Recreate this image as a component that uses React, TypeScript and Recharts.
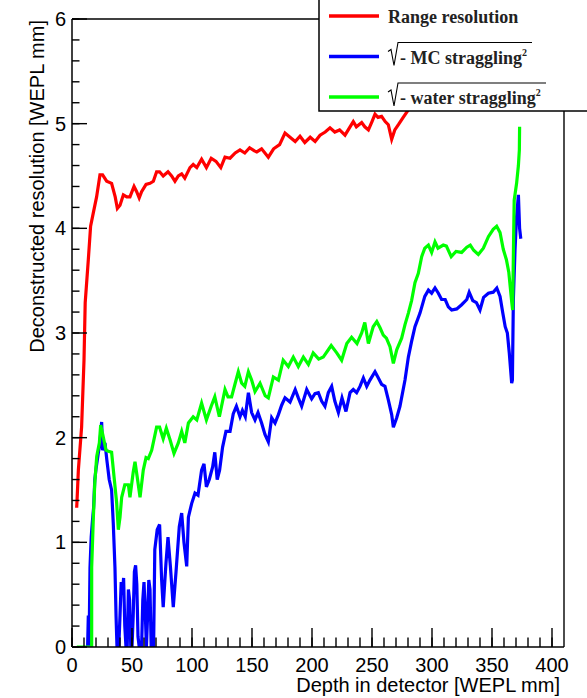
import React from 'react';
import { LineChart, Line, XAxis, YAxis, ReferenceLine } from 'recharts';

// Range resolution
const redDepth = [
  3.9, 4.2, 5.3, 8, 10, 11, 13.6, 15.5, 17.8, 20.5, 23.3, 25.5, 28.9, 33, 36, 37.8, 40, 42.8, 45.6, 48.3,
  51.7, 53.9, 56, 58, 61.7, 65, 67.8, 70.5, 73, 76, 80, 83, 85.8, 88.6, 91.4, 94, 98.3, 101, 104, 108,
  112, 116, 120, 124, 127.5, 131.7, 136, 140, 144, 148, 152, 154, 158, 163.6, 168, 173, 177.5, 181.7, 186, 190,
  194, 198.5, 202.6, 206.7, 211, 215, 219, 223, 227.5, 231.7, 234.4, 237, 241.4, 244, 247, 250, 252.5, 255, 258, 261,
  263.6, 266.4, 269, 272, 276, 279, 282, 286, 292, 300, 310, 320, 330, 340, 350, 360, 370, 374,
];
const redRes = [
  1.33, 1.4, 1.69, 2.1, 2.74, 3.29, 3.7, 4.02, 4.15, 4.3, 4.51, 4.51, 4.45, 4.43, 4.3, 4.19, 4.22, 4.32, 4.3, 4.3,
  4.4, 4.35, 4.29, 4.35, 4.42, 4.43, 4.45, 4.54, 4.54, 4.5, 4.54, 4.5, 4.45, 4.5, 4.52, 4.48, 4.58, 4.61, 4.58, 4.66,
  4.58, 4.67, 4.64, 4.58, 4.68, 4.67, 4.72, 4.75, 4.72, 4.77, 4.74, 4.73, 4.76, 4.68, 4.76, 4.8, 4.91, 4.87, 4.83, 4.88,
  4.82, 4.87, 4.83, 4.89, 4.92, 4.96, 4.92, 4.94, 4.89, 4.97, 5.02, 4.97, 5.01, 4.97, 4.94, 5.02, 5.09, 5.06, 5.07, 5.02,
  4.99, 4.85, 4.94, 4.99, 5.06, 5.11, 5.16, 5.2, 5.22, 5.24, 5.28, 5.3, 5.33, 5.36, 5.4, 5.45, 5.5, 5.52,
];

// sqrt(range^2 - MC straggling^2)
const blueDepth = [
  13, 13.6, 14.2, 15, 16, 17, 18, 19, 20, 21, 22, 23, 24, 24.7, 25.5, 26.5, 27.5, 29, 31, 33,
  34.4, 35.8, 36.7, 37.5, 39, 40, 41, 42, 43, 44, 45, 46, 47, 48, 49, 50, 51, 52, 53, 54,
  55, 56, 57, 58, 59, 60, 61, 62, 63, 64, 65, 66, 67, 68, 69, 71, 73, 74.7, 76, 78.3,
  80, 82, 84.4, 86.7, 89.4, 91.4, 93.3, 95.6, 97, 99.7, 102.5, 105, 108, 110, 112, 114.4, 117.2, 119, 121, 123,
  125.5, 128.3, 131.7, 134.4, 137, 140, 142, 144.4, 147, 149.7, 152.5, 155, 158, 160.8, 163.6, 166.4, 169.2, 172, 174.7, 177.5,
  181.7, 186, 188.6, 191.4, 195.6, 199.7, 202.5, 205.3, 208, 210.8, 213.6, 216.4, 219, 222, 225, 228.3, 231.7, 234.4, 237.2, 240,
  242.8, 245.6, 248.3, 252.5, 255.3, 258, 260.8, 263.6, 266.4, 267.8, 270.6, 273.3, 277.5, 280.3, 283, 285.8, 290, 294, 297, 299.7,
  302.5, 305.3, 308, 311, 313.6, 316.4, 320.6, 324.7, 329, 331, 334, 337, 340, 343, 347, 351, 354, 356.7, 359, 361,
  362.8, 364.4, 366.4, 367, 367.8, 369.2, 370.5, 372, 373, 374,
];
const blueRes = [
  0, 0.3, 0, 0.76, 1.05, 1.2, 1.33, 1.6, 1.7, 1.78, 1.86, 1.92, 2.05, 2.15, 1.88, 1.92, 1.95, 1.79, 1.6, 1.5,
  1.18, 0.76, 0.3, 0, 0, 0.3, 0.62, 0.5, 0.66, 0.2, 0, 0, 0.55, 0.45, 0, 0, 0.3, 0.72, 0.78, 0.6,
  0.1, 0, 0, 0, 0.45, 0.62, 0.35, 0, 0.3, 0.64, 0.55, 0, 0.2, 0, 0.93, 1.12, 1.17, 0.64, 0.38, 0.8,
  1.05, 0.77, 0.38, 0.72, 1.15, 1.28, 1.0, 0.77, 1.24, 1.37, 1.47, 1.45, 1.69, 1.75, 1.53, 1.6, 1.72, 1.86, 1.6, 1.69,
  1.91, 2.06, 2.06, 2.23, 2.3, 2.2, 2.26, 2.2, 2.43, 2.24, 2.17, 2.24, 2.14, 2.03, 1.96, 2.19, 2.14, 2.22, 2.31, 2.38,
  2.34, 2.46, 2.38, 2.3, 2.46, 2.37, 2.42, 2.43, 2.35, 2.3, 2.43, 2.49, 2.35, 2.24, 2.38, 2.25, 2.43, 2.46, 2.43, 2.49,
  2.57, 2.49, 2.55, 2.63, 2.57, 2.51, 2.49, 2.36, 2.22, 2.1, 2.19, 2.3, 2.55, 2.77, 2.92, 3.06, 3.19, 3.35, 3.41, 3.38,
  3.43, 3.38, 3.32, 3.32, 3.25, 3.22, 3.23, 3.27, 3.32, 3.39, 3.31, 3.29, 3.22, 3.34, 3.38, 3.39, 3.43, 3.35, 3.19, 3.06,
  3.0, 2.81, 2.52, 2.55, 3.32, 3.8, 4.11, 4.32, 4.0, 3.9,
];

// sqrt(range^2 - water straggling^2)
const greenDepth = [
  4, 16.4, 16.4, 17.8, 19, 20.6, 22.8, 23.9, 26, 28.3, 30.3, 33, 35, 37.2, 38.6, 40, 41.4, 44, 47, 48.3,
  51, 52.5, 54.4, 56.7, 59.4, 61.7, 63.6, 66.4, 70.5, 73, 76, 78.6, 81.7, 85, 88.6, 91.4, 94, 97, 101, 104,
  108, 112, 116, 119, 122.8, 127.5, 130, 133, 136, 138.6, 141.4, 144, 147, 149.7, 152.5, 156.7, 161, 163.6, 167.8, 172,
  176, 180.3, 184.4, 188.6, 192.8, 197, 201, 205.6, 209.4, 213.6, 216, 220.6, 224.7, 229, 233, 237.5, 241.4, 244, 247, 251,
  254, 256.7, 259.4, 262, 265, 267.8, 270.6, 274.7, 277.5, 280.3, 283, 285.8, 288.6, 291.4, 294, 297, 299.7, 302.5, 305, 309.4,
  312, 316, 320, 324.7, 329, 331.9, 334.7, 338.6, 342.8, 347, 351, 353.9, 356.7, 359.4, 362, 364, 366.4, 367.2, 368, 368.5,
  370.5, 372, 372.8, 373,
];
const greenRes = [
  0, 0, 0.76, 1.24, 1.57, 1.82, 1.95, 2.12, 2.01, 1.88, 1.87, 1.86, 1.63, 1.38, 1.12, 1.24, 1.43, 1.55, 1.55, 1.43,
  1.67, 1.77, 1.62, 1.43, 1.69, 1.81, 1.8, 1.88, 2.1, 2.1, 1.99, 2.09, 1.98, 1.85, 1.95, 2.06, 1.95, 2.14, 2.2, 2.17,
  2.33, 2.17, 2.3, 2.39, 2.2, 2.46, 2.39, 2.39, 2.52, 2.63, 2.52, 2.49, 2.63, 2.55, 2.44, 2.52, 2.4, 2.38, 2.58, 2.55,
  2.74, 2.68, 2.77, 2.68, 2.77, 2.7, 2.81, 2.75, 2.77, 2.84, 2.88, 2.81, 2.74, 2.9, 2.96, 2.9, 3.0, 3.1, 2.9, 3.06,
  3.11, 3.05, 2.98, 2.95, 2.87, 2.71, 2.84, 2.95, 3.08, 3.19, 3.31, 3.48, 3.57, 3.73, 3.81, 3.84, 3.77, 3.87, 3.81, 3.84,
  3.83, 3.73, 3.78, 3.77, 3.82, 3.84, 3.79, 3.75, 3.81, 3.92, 3.99, 4.02, 3.96, 3.8, 3.7, 3.58, 3.3, 3.22, 3.9, 4.27,
  4.43, 4.6, 4.75, 4.97,
];

const xTicks = [
  0, 10, 20, 30, 40, 50, 60, 70, 80, 90, 100, 110, 120, 130, 140, 150, 160, 170, 180, 190, 200,
  210, 220, 230, 240, 250, 260, 270, 280, 290, 300, 310, 320, 330, 340, 350, 360, 370, 380, 390, 400,
];
const yTicks = [
  0, 0.2, 0.4, 0.6, 0.8, 1, 1.2, 1.4, 1.6, 1.8, 2, 2.2, 2.4, 2.6, 2.8, 3, 3.2, 3.4, 3.6, 3.8,
  4, 4.2, 4.4, 4.6, 4.8, 5, 5.2, 5.4, 5.6, 5.8, 6,
];

const SANS = '"Liberation Sans", Arial, sans-serif';
const SERIF = '"Liberation Serif", "Times New Roman", serif';

// minor tick length is drawn by recharts (negative size = inward), majors get extended here
const X_MINOR = 9.5;
const X_MAJOR = 19;
const Y_MINOR = 7.5;
const Y_MAJOR = 15;
const MARGIN = 10;

const toPoints = (depth: number[], res: number[]) => depth.map((x, i) => ({ x, y: res[i] }));

const redData = toPoints(redDepth, redRes);
const blueData = toPoints(blueDepth, blueRes);
const greenData = toPoints(greenDepth, greenRes);

const renderXTick = (props: any) => {
  const { x, y, payload } = props;
  const axisY = y + X_MINOR - MARGIN;
  const major = payload.value % 50 === 0;
  return (
    <g key={`xt-${payload.value}`}>
      {major && <rect x={x - 0.7} y={axisY - X_MAJOR} width={1.4} height={X_MAJOR} fill="#000" />}
      {major && (
        <text x={x} y={axisY + 25} textAnchor="middle" fontSize={20} fontFamily={SANS} fill="#000">
          {payload.value}
        </text>
      )}
    </g>
  );
};

const renderYTick = (props: any) => {
  const { x, y, payload } = props;
  const axisX = x + MARGIN - Y_MINOR;
  const v = payload.value;
  const major = Math.abs(v - Math.round(v)) < 1e-6;
  return (
    <g key={`yt-${v}`}>
      {major && <rect x={axisX} y={y - 0.7} width={Y_MAJOR} height={1.4} fill="#000" />}
      {major && (
        <text x={axisX - 6} y={y + 7} textAnchor="end" fontSize={20} fontFamily={SANS} fill="#000">
          {Math.round(v)}
        </text>
      )}
    </g>
  );
};

const legendRows = [
  { color: '#ff0000', label: 'Range resolution', root: false, barEnd: 0 },
  { color: '#0000ff', label: '- MC straggling', root: true, barEnd: 214 },
  { color: '#00ff00', label: '- water straggling', root: true, barEnd: 228 },
];

const LegendBox = () => (
  <svg width={280} height={114} style={{ position: 'absolute', left: 318, top: 0, display: 'block' }}>
    <rect x={1} y={-5} width={300} height={116} fill="#fff" stroke="#000" strokeWidth={1.5} />
    {legendRows.map((r, i) => {
      const ly = 16 + i * 40.5;
      const base = ly + 7;
      return (
        <g key={r.label}>
          <line x1={11} y1={ly} x2={61} y2={ly} stroke={r.color} strokeWidth={3.5} />
          {r.root ? (
            <g>
              <polyline
                points={`70,${base - 12} 73,${base - 14} 76,${base + 2} 80,${base - 21} ${r.barEnd},${base - 21}`}
                fill="none"
                stroke="#000"
                strokeWidth={1.1}
              />
              <text x={82} y={base} fontSize={18} fontWeight="bold" fontFamily={SERIF} fill="#222">
                {r.label}
                <tspan dy={-8} fontSize={10}>2</tspan>
              </text>
            </g>
          ) : (
            <text x={70} y={base} fontSize={18} fontWeight="bold" fontFamily={SERIF} fill="#222">
              {r.label}
            </text>
          )}
        </g>
      );
    })}
  </svg>
);

// axis titles, placed like the ROOT canvas: right-aligned on x, top-aligned on y
const AxisTitles = () => (
  <svg width={587} height={698} style={{ position: 'absolute', left: 0, top: 0, pointerEvents: 'none' }}>
    <text x={560} y={692} textAnchor="end" fontSize={20} fontFamily={SANS} fill="#000">
      Depth in detector [WEPL mm]
    </text>
    <text x={44} y={20} transform="rotate(-90, 44, 20)" textAnchor="end" fontSize={20} fontFamily={SANS} fill="#000">
      Deconstructed resolution [WEPL mm]
    </text>
  </svg>
);

export default function App() {
  return (
    <div style={{ position: 'fixed', left: 0, top: 0, width: 587, height: 698, overflow: 'hidden', background: '#fff' }}>
      <LineChart width={587} height={698} margin={{ top: 19, right: 23, bottom: 0, left: 0 }}>
        <XAxis
          type="number"
          dataKey="x"
          domain={[0, 410]}
          allowDataOverflow
          ticks={xTicks}
          interval={0}
          tickSize={-X_MINOR}
          tickMargin={MARGIN}
          tickLine={{ stroke: '#000', strokeWidth: 1.4 }}
          tick={renderXTick}
          axisLine={{ stroke: '#000', strokeWidth: 1.5 }}
          height={51}
        />
        <YAxis
          type="number"
          dataKey="y"
          domain={[0, 6]}
          allowDataOverflow
          ticks={yTicks}
          interval={0}
          tickSize={-Y_MINOR}
          tickMargin={MARGIN}
          tickLine={{ stroke: '#000', strokeWidth: 1.4 }}
          tick={renderYTick}
          axisLine={{ stroke: '#000', strokeWidth: 1.5 }}
          width={72}
        />
        {/* top and right edges of the frame */}
        <ReferenceLine x={410} stroke="#000" strokeWidth={1.4} ifOverflow="visible" />
        <ReferenceLine y={6} stroke="#000" strokeWidth={1.4} ifOverflow="visible" />
        <Line data={redData} dataKey="y" type="linear" stroke="#ff0000" strokeWidth={3.2} dot={false} isAnimationActive={false} />
        <Line data={blueData} dataKey="y" type="linear" stroke="#0000ff" strokeWidth={3.2} dot={false} isAnimationActive={false} />
        <Line data={greenData} dataKey="y" type="linear" stroke="#00ff00" strokeWidth={3.2} dot={false} isAnimationActive={false} />
      </LineChart>
      <AxisTitles />
      <LegendBox />
    </div>
  );
}
